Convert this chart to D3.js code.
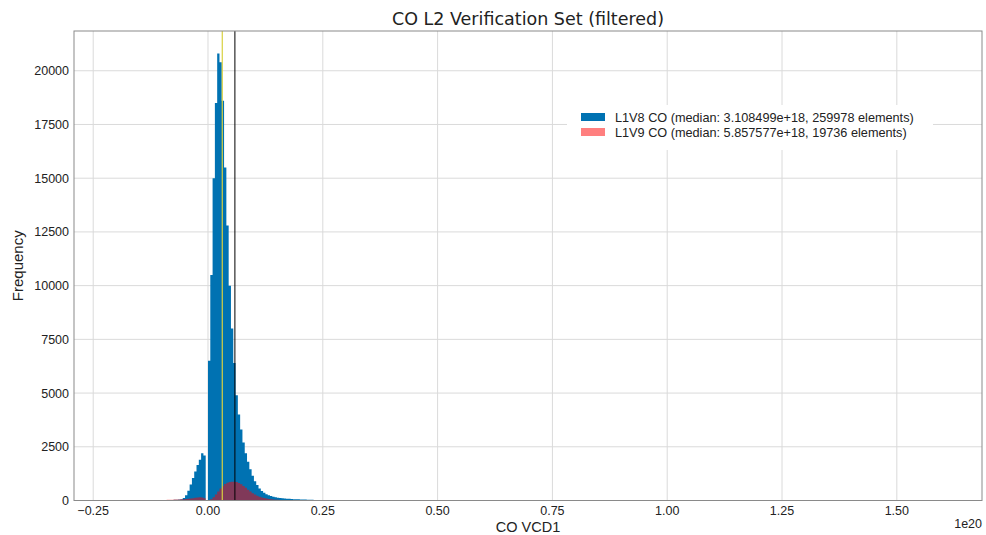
<!DOCTYPE html>
<html>
<head>
<meta charset="utf-8">
<script src="https://cdn.jsdelivr.net/npm/d3@7"></script>
<style>
  body { margin: 0; background: #fff; }
  text { font-family: "Liberation Sans", Arial, sans-serif; fill: #222; }
</style>
</head>
<body>
<div id="chart"></div>
<script>
// histogram bins, x in units of 1e20
const binStart = -0.16;
const binWidth = 0.005;

const l1v8Counts = [
  1, 1, 2, 2, 3, 3, 4, 5, 6, 7, 8, 10, 12, 14, 17, 20, 25, 30, 38, 48,
  60, 120, 250, 450, 750, 1050, 1350, 1650, 1900, 2200, 2100, 0,
  6500, 10500, 15000, 18500, 20800, 20400, 18600, 15500, 12800, 10000, 8000, 6400,
  4900, 4000, 3300, 2700, 2200, 1800, 1450, 1150, 900, 720, 560, 440,
  360, 295, 245, 205, 175, 150, 130, 115, 102, 92, 84, 77, 70, 64, 58, 53,
  49, 45, 41, 38, 35, 32, 29, 27, 25, 23, 21, 19, 18, 16, 15, 14, 13, 12, 11, 10,
  9, 8, 7, 6
];

const l1v9Counts = [
  3, 4, 5, 6, 7, 8, 10, 12, 14, 16, 18, 21, 24, 27, 30, 34, 38, 42, 47, 52,
  58, 64, 72, 82, 95, 110, 125, 140, 150, 140, 100, 25,
  20, 60, 150, 280, 420, 560, 680, 770, 830, 860, 870, 870,
  860, 820, 760, 680, 590, 500, 420, 340, 275, 220, 180, 145,
  115, 90, 72, 58, 46, 38, 31, 26, 22, 18, 15, 12, 10, 8, 7, 6,
  5, 4, 4, 3, 3, 3, 2, 2, 2, 2, 1, 1, 1, 1, 1, 1, 1, 1, 0, 0,
  0, 0, 0, 0
];

const medians = [0.03108499, 0.05857577];
const legendLabels = [
  "L1V8 CO (median: 3.108499e+18, 259978 elements)",
  "L1V9 CO (median: 5.857577e+18, 19736 elements)"
];
const xTicks = [-0.25, 0, 0.25, 0.5, 0.75, 1.0, 1.25, 1.5];
const yTicks = [0, 2500, 5000, 7500, 10000, 12500, 15000, 17500, 20000];

const W = 986, H = 535;
const plot = { left: 74, right: 982, top: 31, bottom: 500.5 };

const svg = d3.select("#chart").append("svg")
  .attr("width", W)
  .attr("height", H);

const x = d3.scaleLinear().domain([-0.2918, 1.6855]).range([plot.left, plot.right]);
const y = d3.scaleLinear().domain([0, 21850]).range([plot.bottom, plot.top]);

// grid
svg.append("g")
  .selectAll("line")
  .data(xTicks)
  .enter().append("line")
  .attr("x1", d => x(d)).attr("x2", d => x(d))
  .attr("y1", plot.top).attr("y2", plot.bottom)
  .attr("stroke", "#dadada").attr("stroke-width", 1);

svg.append("g")
  .selectAll("line")
  .data(yTicks)
  .enter().append("line")
  .attr("x1", plot.left).attr("x2", plot.right)
  .attr("y1", d => y(d)).attr("y2", d => y(d))
  .attr("stroke", "#dadada").attr("stroke-width", 1);

// bins -> step outline (last bin gets a closing point at its right edge)
function toSteps(counts) {
  const pts = counts.map((c, i) => ({ x: binStart + i * binWidth, c }));
  pts.push({ x: binStart + counts.length * binWidth, c: counts[counts.length - 1] });
  return pts;
}

const area = d3.area()
  .curve(d3.curveStepAfter)
  .x(d => x(d.x))
  .y0(y(0))
  .y1(d => y(d.c));

function drawHist(counts, fill, opacity) {
  svg.append("path")
    .datum(toSteps(counts))
    .attr("d", area)
    .attr("fill", fill)
    .attr("fill-opacity", opacity);
}

drawHist(l1v8Counts, "#0072B2", 1);
drawHist(l1v9Counts, "#ff0000", 0.5);

// median lines
svg.append("line")
  .attr("x1", x(medians[0])).attr("x2", x(medians[0]))
  .attr("y1", plot.top).attr("y2", plot.bottom)
  .attr("stroke", "#d8d040").attr("stroke-width", 1.2);
svg.append("line")
  .attr("x1", x(medians[1])).attr("x2", x(medians[1]))
  .attr("y1", plot.top).attr("y2", plot.bottom)
  .attr("stroke", "#000").attr("stroke-width", 1);

// frame
svg.append("rect")
  .attr("x", plot.left).attr("y", plot.top)
  .attr("width", plot.right - plot.left)
  .attr("height", plot.bottom - plot.top)
  .attr("fill", "none")
  .attr("stroke", "#8a8a8a").attr("stroke-width", 1);

// tick labels
const fmtX = d3.format(".2f");
svg.append("g")
  .selectAll("text")
  .data(xTicks)
  .enter().append("text")
  .attr("x", d => x(d))
  .attr("y", 515)
  .attr("text-anchor", "middle")
  .style("font-size", "12.5px")
  .text(d => fmtX(d));

svg.append("g")
  .selectAll("text")
  .data(yTicks)
  .enter().append("text")
  .attr("x", 69)
  .attr("y", d => y(d) + 4.5)
  .attr("text-anchor", "end")
  .style("font-size", "12.5px")
  .text(d => d);

// offset text
svg.append("text")
  .attr("x", 982).attr("y", 528)
  .attr("text-anchor", "end")
  .style("font-size", "12.5px")
  .text("1e20");

// axis labels
svg.append("text")
  .attr("x", (plot.left + plot.right) / 2)
  .attr("y", 531.5)
  .attr("text-anchor", "middle")
  .style("font-size", "14.5px")
  .text("CO VCD1");

svg.append("text")
  .attr("transform", `translate(23, ${(plot.top + plot.bottom) / 2}) rotate(-90)`)
  .attr("text-anchor", "middle")
  .style("font-size", "15px")
  .text("Frequency");

// title
svg.append("text")
  .attr("x", (plot.left + plot.right) / 2)
  .attr("y", 25)
  .attr("text-anchor", "middle")
  .style("font-family", "DejaVu Sans, sans-serif")
  .style("font-size", "17.5px")
  .text("CO L2 Verification Set (filtered)");

// legend
const legend = svg.append("g");
legend.append("rect")
  .attr("x", 567).attr("y", 105)
  .attr("width", 366).attr("height", 45)
  .attr("fill", "#fff");

const legendColors = ["#0072B2", "rgba(255,0,0,0.5)"];
legendLabels.forEach((label, i) => {
  legend.append("rect")
    .attr("x", 581).attr("y", 113 + i * 15)
    .attr("width", 24).attr("height", 8)
    .attr("fill", legendColors[i]);
  legend.append("text")
    .attr("x", 615).attr("y", 121.5 + i * 15)
    .style("font-size", "12.7px")
    .text(label);
});
</script>
</body>
</html>
